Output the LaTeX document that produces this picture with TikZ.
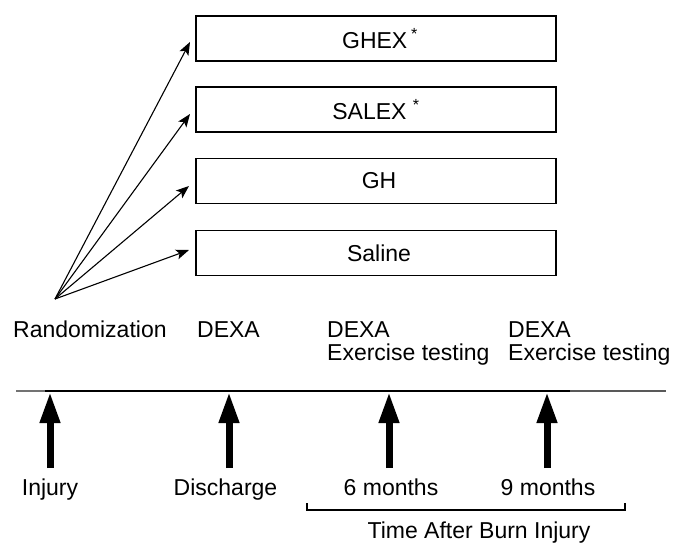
\documentclass[tikz,border=0pt]{standalone}
\usepackage{fontspec}
\setmainfont{Liberation Sans}
\usetikzlibrary{arrows.meta}
\begin{document}
\begin{tikzpicture}[x=1pt,y=-1pt,
  txt/.style={font=\fontsize{23}{23}\selectfont, inner sep=0pt},
  lbl/.style={txt, anchor=base west},
  clbl/.style={txt, anchor=base},
  grp/.style={draw, line width=1.6pt, minimum width=360pt, minimum height=45pt, inner sep=0pt, txt},
  thin/.style={line width=1.1pt, -{Stealth[length=13pt,width=10pt,inset=3pt]}},
  bigarrow/.style={line width=7pt, -{Triangle[length=31pt,width=19pt]}},
  axis/.style={line width=2pt},
  brace/.style={line width=1.2pt}
]
\useasboundingbox (0,0) rectangle (678,544);

% treatment groups
\node[grp] (b1) at (376,38.5) {\hspace{8pt}GHEX\,\textsuperscript{*}};
\node[grp] (b2) at (376,109.5) {SALEX \textsuperscript{*}};
\node[grp] (b3) at (376,181) {\hspace{6pt}GH};
\node[grp] (b4) at (376,252.8) {\hspace{6pt}Saline};

% randomization fan
\coordinate (o) at (55,299);
\coordinate (t1) at (190,42);
\coordinate (t2) at (190,114);
\coordinate (t3) at (189,186);
\coordinate (t4) at (189,250);
\draw[thin] (o) -- (t1);
\draw[thin] (o) -- (t2);
\draw[thin] (o) -- (t3);
\draw[thin] (o) -- (t4);

% upper labels
\node[lbl] (rand) at (13,337) {Randomization};
\node[lbl] (d1) at (197,337) {DEXA};
\node[lbl] (d2) at (327,337) {DEXA};
\node[lbl] (e2) at (327,360) {Exercise testing};
\node[lbl] (d3) at (508,337) {DEXA};
\node[lbl] (e3) at (508,360) {Exercise testing};

% time axis
\coordinate (aL) at (16,391);
\coordinate (aL2) at (45,391);
\coordinate (aR2) at (570,391);
\coordinate (aR) at (666,391);
\draw[axis, black!55] (aL) -- (aL2);
\draw[axis] (aL2) -- (aR2);
\draw[axis, black!65] (aR2) -- (aR);

% event arrows
\coordinate (s1) at (50,468);  \coordinate (p1) at (50,392);
\coordinate (s2) at (229,468); \coordinate (p2) at (229,392);
\coordinate (s3) at (389,468); \coordinate (p3) at (389,392);
\coordinate (s4) at (547,468); \coordinate (p4) at (547,392);
\draw[bigarrow] (s1) -- (p1);
\draw[bigarrow] (s2) -- (p2);
\draw[bigarrow] (s3) -- (p3);
\draw[bigarrow] (s4) -- (p4);

% lower labels
\node[clbl] (inj) at (50,495) {Injury};
\node[clbl] (dis) at (225.5,495) {Discharge};
\node[clbl] (m6) at (391,495) {6 months};
\node[clbl] (m9) at (548,495) {9 months};

% bracket
\coordinate (k1) at (307,503);
\coordinate (k2) at (307,510);
\coordinate (k3) at (625,510);
\coordinate (k4) at (625,503);
\draw[brace] (k1) -- (k2) -- (k3) -- (k4);
\node[clbl] (tab) at (479,538) {Time After Burn Injury};
\end{tikzpicture}
\end{document}
